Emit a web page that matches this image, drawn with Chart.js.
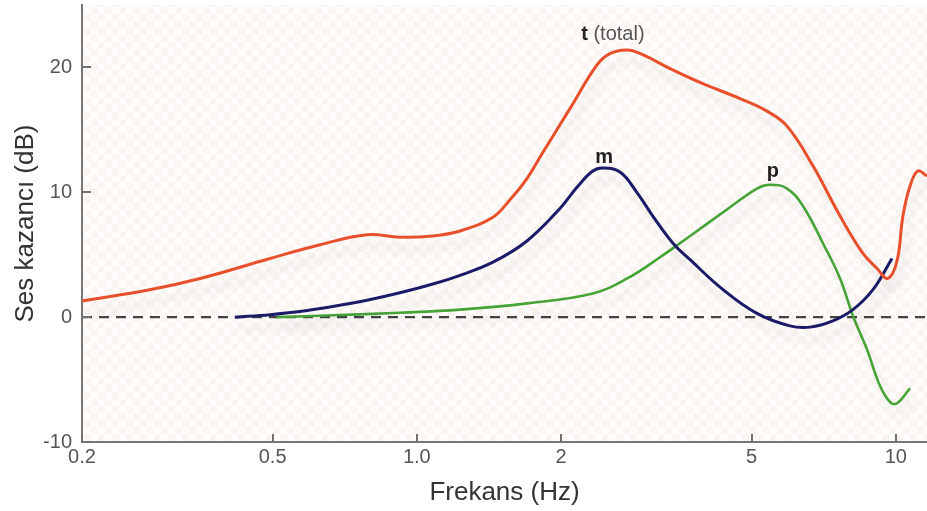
<!DOCTYPE html>
<html>
<head>
<meta charset="utf-8">
<script src="https://cdn.jsdelivr.net/npm/chart.js@4.4.1/dist/chart.umd.min.js"></script>
<style>
  html, body { margin: 0; padding: 0; background: #ffffff; }
  #wrap { width: 927px; height: 511px; position: relative; }
</style>
</head>
<body>
<div id="wrap"><canvas id="c" width="927" height="511"></canvas></div>
<script>
// ---- Data (frequency in Hz, gain in dB) ----
const tFreq = [0.2, 0.277, 0.353, 0.494, 0.628, 0.787, 0.922, 1.08, 1.231, 1.442, 1.565, 1.698, 1.834, 2.088, 2.378, 2.53, 2.75, 2.97, 3.38, 3.90, 4.73, 5.38, 5.93, 6.72, 7.65, 8.54, 9.14, 9.63, 10.06, 10.35, 10.71, 11.12, 11.62];
const tGain = [1.3, 2.2, 3.1, 4.7, 5.8, 6.6, 6.4, 6.5, 6.9, 8.0, 9.4, 11.1, 13.2, 16.7, 20.2, 21.1, 21.4, 21.0, 19.9, 18.8, 17.5, 16.5, 15.3, 12.1, 8.1, 5.1, 3.9, 3.1, 4.5, 8.1, 10.5, 11.7, 11.3];

const mFreq = [0.417, 0.494, 0.570, 0.668, 0.787, 0.922, 1.08, 1.231, 1.442, 1.698, 1.99, 2.16, 2.33, 2.45, 2.66, 2.88, 3.11, 3.43, 3.72, 4.36, 5.13, 6.01, 6.62, 7.39, 8.14, 8.96, 9.82];
const mGain = [0, 0.2, 0.45, 0.85, 1.35, 1.95, 2.65, 3.35, 4.4, 6.1, 8.7, 10.4, 11.7, 11.95, 11.6, 10.0, 8.1, 5.9, 4.6, 2.2, 0.3, -0.7, -0.8, -0.3, 0.6, 2.2, 4.7];

const pFreq = [0.51, 0.668, 0.922, 1.231, 1.698, 2.33, 2.75, 3.22, 3.72, 4.36, 5.13, 5.46, 5.93, 6.40, 7.05, 7.65, 8.14, 8.71, 9.27, 9.73, 10.06, 10.71];
const pGain = [0, 0.15, 0.35, 0.6, 1.1, 1.9, 3.1, 4.8, 6.5, 8.4, 10.3, 10.6, 10.3, 8.9, 5.9, 3.1, 0.1, -2.6, -5.5, -6.8, -6.9, -5.7];

const zeroFreq = [0.2, 11.62];
const zeroGain = [0, 0];

const xTickValues = [0.2, 0.5, 1, 2, 5, 10];
const xTickLabels = ['0.2', '0.5', '1.0', '2', '5', '10'];
const yTickValues = [-10, 0, 10, 20];

const xMin = 0.2, xMax = 11.62, yMin = -10, yMax = 25;

const curveLabels = [
  { parts: [{ t: 't', bold: true }, { t: ' (total)', bold: false }], x: 2.24, y: 22.6 },
  { parts: [{ t: 'm', bold: true }], x: 2.46, y: 12.8, center: true },
  { parts: [{ t: 'p', bold: true }], x: 5.54, y: 11.7, center: true }
];

const pts = (xs, ys) => xs.map((x, i) => ({ x: x, y: ys[i] }));

// ---- Plugins ----
const bgPlugin = {
  id: 'bg',
  beforeDraw(chart) {
    const { ctx, chartArea: a } = chart;
    const pc = document.createElement('canvas');
    pc.width = 14; pc.height = 14;
    const p = pc.getContext('2d');
    p.fillStyle = '#fefdfc'; p.fillRect(0, 0, 14, 14);
    p.fillStyle = '#fbf5f2'; p.fillRect(0, 0, 7, 7); p.fillRect(7, 7, 7, 7);
    ctx.save();
    ctx.fillStyle = ctx.createPattern(pc, 'repeat');
    ctx.fillRect(a.left, a.top, a.right - a.left, a.bottom - a.top);
    ctx.restore();
  }
};

const shadowPlugin = {
  id: 'shadow',
  beforeDatasetDraw(chart, args) {
    const ctx = chart.ctx;
    ctx.save();
    if (args.index < 3) {
      ctx.shadowColor = 'rgba(0,0,0,0.10)';
      ctx.shadowBlur = 10;
      ctx.shadowOffsetX = 5;
      ctx.shadowOffsetY = 12;
    }
  },
  afterDatasetDraw(chart) { chart.ctx.restore(); }
};

const tickMarkPlugin = {
  id: 'tickMarks',
  afterDraw(chart) {
    const { ctx, scales: { x, y }, chartArea: a } = chart;
    ctx.save();
    ctx.strokeStyle = '#707070';
    ctx.lineWidth = 2;
    ctx.beginPath();
    xTickValues.forEach(v => {
      const px = Math.round(x.getPixelForValue(v));
      ctx.moveTo(px, a.bottom); ctx.lineTo(px, a.bottom - 8);
    });
    yTickValues.forEach(v => {
      const py = Math.round(y.getPixelForValue(v));
      ctx.moveTo(a.left, py); ctx.lineTo(a.left + 9, py);
    });
    ctx.stroke();
    ctx.restore();
  }
};

const labelPlugin = {
  id: 'curveLabels',
  afterDatasetsDraw(chart) {
    const { ctx, scales: { x, y } } = chart;
    ctx.save();
    ctx.textBaseline = 'middle';
    curveLabels.forEach(l => {
      const px = x.getPixelForValue(l.x), py = y.getPixelForValue(l.y);
      let total = 0;
      const widths = l.parts.map(p => {
        ctx.font = (p.bold ? 'bold ' : '') + '20px "Liberation Sans", Arial, sans-serif';
        const w = ctx.measureText(p.t).width; total += w; return w;
      });
      let cx = l.center ? px - total / 2 : px - widths[0] / 2;
      l.parts.forEach((p, i) => {
        ctx.font = (p.bold ? 'bold ' : '') + '20px "Liberation Sans", Arial, sans-serif';
        ctx.fillStyle = p.bold ? '#222' : '#555';
        ctx.textAlign = 'left';
        ctx.fillText(p.t, cx, py);
        cx += widths[i];
      });
    });
    ctx.restore();
  }
};

const zeroPad = s => { s.paddingTop = 0; s.paddingBottom = 0; s.paddingLeft = 0; s.paddingRight = 0; };

const curveStyle = { pointRadius: 0, tension: 0.4, fill: false };

new Chart(document.getElementById('c'), {
  type: 'line',
  data: {
    datasets: [
      Object.assign({ label: 't', data: pts(tFreq, tGain), borderColor: '#e8502c', borderWidth: 3, order: 1 }, curveStyle),
      Object.assign({ label: 'm', data: pts(mFreq, mGain), borderColor: '#1b1b68', borderWidth: 3, order: 2 }, curveStyle),
      Object.assign({ label: 'p', data: pts(pFreq, pGain), borderColor: '#46a436', borderWidth: 2.6, order: 3 }, curveStyle),
      { label: 'zero', data: pts(zeroFreq, zeroGain), borderColor: '#444444', borderWidth: 2.2, borderDash: [10, 7], pointRadius: 0, fill: false, tension: 0, order: 10 }
    ]
  },
  options: {
    responsive: false,
    animation: false,
    events: [],
    layout: { padding: { top: 5, right: 0, bottom: 0, left: 0 } },
    plugins: { legend: { display: false }, tooltip: { enabled: false } },
    scales: {
      x: {
        type: 'logarithmic',
        min: xMin, max: xMax,
        grid: { display: false, drawTicks: false },
        border: { display: true, color: '#777777', width: 2 },
        ticks: {
          autoSkip: false, maxRotation: 0, padding: 3,
          color: '#555555',
          font: { family: '"Liberation Sans", Arial, sans-serif', size: 20 },
          callback: (v, i) => xTickLabels[i]
        },
        afterBuildTicks: s => { s.ticks = xTickValues.map(v => ({ value: v })); },
        afterFit: s => { s.height = 69; zeroPad(s); },
        title: {
          display: true, text: 'Frekans (Hz)', color: '#333333',
          font: { family: '"Liberation Sans", Arial, sans-serif', size: 26 },
          padding: { top: 0, bottom: 3 }
        }
      },
      y: {
        type: 'linear',
        min: yMin, max: yMax,
        grid: { display: false, drawTicks: false },
        border: { display: true, color: '#777777', width: 2 },
        ticks: {
          padding: 10, color: '#555555',
          font: { family: '"Liberation Sans", Arial, sans-serif', size: 20 },
          callback: v => String(v)
        },
        afterBuildTicks: s => { s.ticks = yTickValues.map(v => ({ value: v })); },
        afterFit: s => { s.width = 82; zeroPad(s); },
        title: {
          display: true, text: 'Ses kazancı (dB)', color: '#333333',
          font: { family: '"Liberation Sans", Arial, sans-serif', size: 26 },
          padding: { top: 10, bottom: 0 }
        }
      }
    }
  },
  plugins: [bgPlugin, shadowPlugin, tickMarkPlugin, labelPlugin]
});
</script>
</body>
</html>
